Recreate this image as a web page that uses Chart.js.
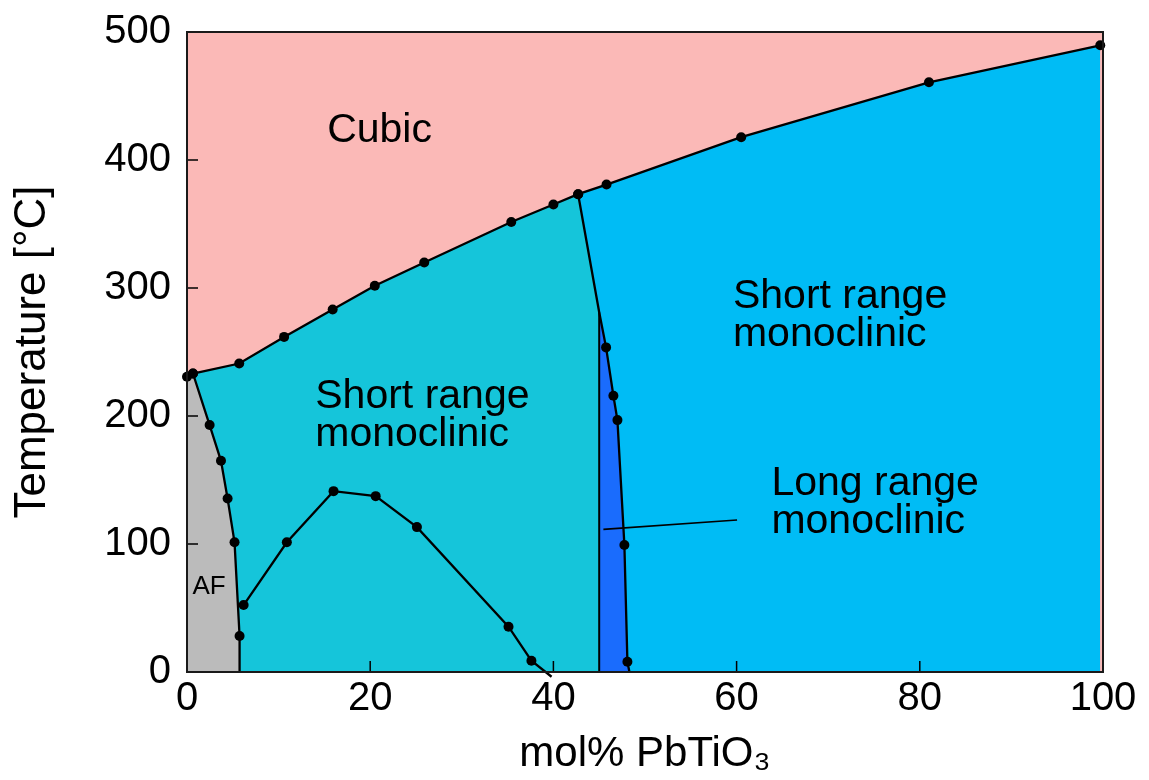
<!DOCTYPE html>
<html>
<head>
<meta charset="utf-8">
<script src="https://cdn.jsdelivr.net/npm/chart.js@4/dist/chart.umd.min.js"></script>
<style>
  html, body { margin: 0; padding: 0; background: #ffffff; }
  canvas { display: block; }
</style>
</head>
<body>
<canvas id="c" width="1149" height="780"></canvas>
<script>
// ---- Data ----
// Cubic / ferroelectric transition line (mol% PbTiO3, °C)
const cubicX = [0, 0.65, 5.7, 10.6, 15.9, 20.5, 25.9, 35.4, 40.0, 42.7, 45.8, 60.5, 81.0, 99.7];
const cubicT = [230.6, 233.2, 241.0, 261.8, 283.2, 301.7, 319.9, 351.6, 365.2, 373.3, 380.8, 417.8, 460.7, 489.6];
// Antiferroelectric (AF) boundary
const afX = [0.65, 2.47, 3.71, 4.43, 5.19, 5.74, 5.74];
const afT = [233.2, 192.9, 165.0, 135.6, 101.3, 28.1, 0];
// Dome-shaped line inside the left short range monoclinic field
const domeX = [6.18, 10.9, 16.0, 20.6, 25.1, 35.1, 37.6, 39.8];
const domeT = [52.3, 101.3, 141.3, 137.4, 113.2, 35.4, 8.8, -3.7];
// Morphotropic boundary: slanted line + right edge of long range monoclinic field
const mpbX = [42.7, 45.0, 45.75, 46.55, 46.99, 47.75, 48.08, 48.3];
const mpbT = [373.3, 281.0, 253.6, 215.8, 196.8, 99.2, 8.0, 0];
// Left edge of long range monoclinic field
const lrmLeftX = [45.0, 45.0];
const lrmLeftT = [281.0, 0];
// Leader line to "Long range monoclinic" label
const leaderX = [45.46, 60.05];
const leaderT = [111.4, 118.7];

// Axis ticks
const xTicks = [0, 20, 40, 60, 80, 100];
const yTicks = [0, 100, 200, 300, 400, 500];

// Region labels
const regionLabels = [
  { lines: ['Cubic'], x: 15.3, t: 414.1, size: 41 },
  { lines: ['Short range', 'monoclinic'], x: 14.0, t: 206.2, size: 41 },
  { lines: ['Short range', 'monoclinic'], x: 59.6, t: 284.5, size: 41 },
  { lines: ['Long range', 'monoclinic'], x: 63.8, t: 138.2, size: 41 },
  { lines: ['AF'], x: 0.6, t: 60.9, size: 26 }
];

// ---- helpers ----
const pts = (xs, ts) => xs.map((x, i) => ({ x: x, y: ts[i] }));
const FONT = '"Liberation Sans", Arial, Helvetica, sans-serif';

const cubicPts = pts(cubicX, cubicT);
const afPts = pts(afX, afT);
const domePts = pts(domeX, domeT);
const mpbPts = pts(mpbX, mpbT);
const lrmLeftPts = pts(lrmLeftX, lrmLeftT);
const leaderPts = pts(leaderX, leaderT);

// polygons for the phase fields (filled down to T = 0)
const tealPoly = cubicPts.filter(p => p.x <= mpbX[0]).concat([mpbPts[1], lrmLeftPts[1]]);
const greyPoly = [cubicPts[0]].concat(afPts);
const darkPoly = mpbPts.slice(1);

function fillSet(data, color, order) {
  return { data: data, fill: 'origin', backgroundColor: color, borderWidth: 0,
           pointRadius: 0, tension: 0, order: order };
}
function lineSet(data, width, radiusFn, order) {
  return { data: data, fill: false, borderColor: '#000', borderWidth: width,
           backgroundColor: '#000', pointBackgroundColor: '#000', pointBorderWidth: 0,
           pointRadius: radiusFn, pointHoverRadius: radiusFn, tension: 0, order: order, clip: 10 };
}
const R = 5;

const overlay = {
  id: 'overlay',
  beforeDatasetsDraw(chart) {
    const { ctx, chartArea: a } = chart;
    ctx.save();
    ctx.fillStyle = '#FBB9B7';
    ctx.fillRect(a.left, a.top, a.right - a.left, a.bottom - a.top);
    ctx.restore();
  },
  afterDatasetsDraw(chart) {
    const { ctx, chartArea: a, scales: { x, y } } = chart;
    ctx.save();
    // region labels
    ctx.fillStyle = '#000';
    ctx.textAlign = 'left';
    ctx.textBaseline = 'alphabetic';
    regionLabels.forEach(l => {
      ctx.font = l.size + 'px ' + FONT;
      const px = x.getPixelForValue(l.x);
      const py = y.getPixelForValue(l.t);
      l.lines.forEach((s, i) => ctx.fillText(s, px, py + i * l.size * 0.93));
    });
    // inward ticks
    ctx.strokeStyle = '#000';
    ctx.lineWidth = 1.5;
    ctx.beginPath();
    xTicks.forEach(v => {
      const px = x.getPixelForValue(v);
      ctx.moveTo(px, a.bottom); ctx.lineTo(px, a.bottom - 11);
    });
    yTicks.forEach(v => {
      const py = y.getPixelForValue(v);
      ctx.moveTo(a.left, py); ctx.lineTo(a.left + 11, py);
    });
    ctx.stroke();
    // frame
    ctx.lineWidth = 2;
    ctx.strokeStyle = '#1a1a1a';
    ctx.strokeRect(a.left, a.top, a.right - a.left, a.bottom - a.top);
    ctx.restore();
  }
};

new Chart(document.getElementById('c'), {
  type: 'line',
  data: {
    datasets: [
      // boundary lines with measured points (drawn on top)
      lineSet(cubicPts, 2.3, () => R, 1),
      lineSet(afPts, 2.3, c => (c.dataIndex === afPts.length - 1 ? 0 : R), 1),
      lineSet(domePts, 2.3, c => (c.dataIndex === domePts.length - 1 ? 0 : R), 1),
      lineSet(mpbPts, 2.3, c => (c.dataIndex === 1 || c.dataIndex === mpbPts.length - 1 ? 0 : R), 1),
      lineSet(lrmLeftPts, 2.0, () => 0, 1),
      lineSet(leaderPts, 1.6, () => 0, 1),
      // phase fields
      fillSet(darkPoly, '#1A6CFD', 6),
      fillSet(greyPoly, '#BBBBBB', 7),
      fillSet(tealPoly, '#15C5DA', 8),
      fillSet(cubicPts, '#00BCF5', 9)
    ]
  },
  options: {
    responsive: false,
    animation: false,
    events: [],
    layout: { padding: { top: 32, right: 46, left: 0, bottom: 0 } },
    plugins: { legend: { display: false }, tooltip: { enabled: false } },
    scales: {
      x: {
        type: 'linear', min: 0, max: 100,
        afterBuildTicks: s => { s.ticks = xTicks.map(v => ({ value: v })); },
        afterFit: s => { s.height = 108; s.paddingLeft = 0; s.paddingRight = 0; },
        grid: { display: false, drawTicks: false },
        border: { display: false },
        ticks: { color: '#000', padding: 3, font: { family: FONT, size: 40 } },
        title: { display: true, text: 'mol% PbTiO₃', color: '#000', padding: { top: 6, bottom: 0 },
                 font: { family: FONT, size: 42 } }
      },
      y: {
        type: 'linear', min: 0, max: 500,
        afterBuildTicks: s => { s.ticks = yTicks.map(v => ({ value: v })); },
        afterFit: s => { s.width = 187; s.paddingTop = 0; s.paddingBottom = 0; },
        grid: { display: false, drawTicks: false },
        border: { display: false },
        ticks: { color: '#000', padding: 16, font: { family: FONT, size: 40 } },
        title: { display: true, text: 'Temperature [°C]', color: '#000', padding: { top: 6, bottom: 0 },
                 font: { family: FONT, size: 44 } }
      }
    }
  },
  plugins: [overlay]
});
</script>
</body>
</html>
